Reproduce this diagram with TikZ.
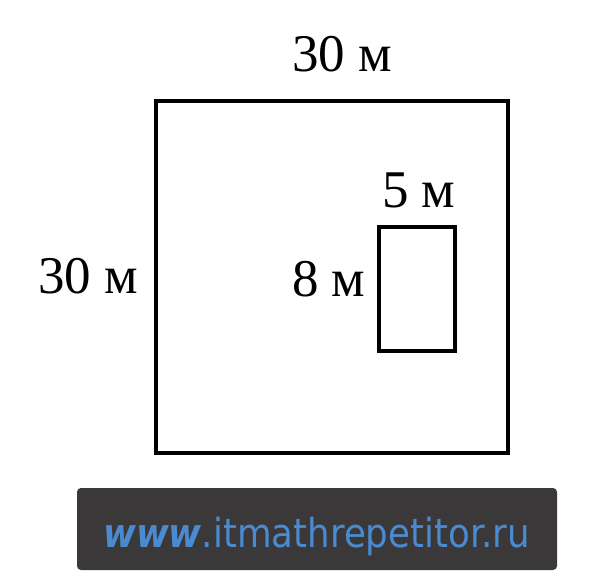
\documentclass[tikz,border=0pt]{standalone}
\usepackage{fontspec}
\setmainfont{Liberation Serif}
\newfontfamily\wmfont{DejaVu Sans}
\definecolor{wmbox}{HTML}{3A3838}
\definecolor{wmblue}{HTML}{4A8AD0}
\tikzset{
  lbl/.style={anchor=base west, inner sep=0pt, font=\fontsize{53}{55}\selectfont},
  wall/.style={draw=black, line width=3.3pt},
}
\begin{document}
\begin{tikzpicture}[x=1pt,y=-1pt]
\useasboundingbox (0,0) rectangle (600,582);
\fill[white] (0,0) rectangle (600,582);
\node[wall, minimum width=352pt, minimum height=352pt, inner sep=0pt] (outer) at (332,277) {};
\node[wall, minimum width=76pt, minimum height=124pt, inner sep=0pt] (inner) at (417,289) {};
\node[lbl] (top) at (292,71) {30 м};
\node[lbl] (left) at (38,293) {30 м};
\node[lbl] (h) at (292,296) {8 м};
\node[lbl] (w) at (382,207) {5 м};
\node[fill=wmbox, rounded corners=4pt, minimum width=480pt, minimum height=82pt, inner sep=0pt] (wm) at (317,529) {};
\node[anchor=base west, inner sep=0pt, text=wmblue] (url) at (103,547) {\wmfont\fontsize{40}{42}\selectfont\scalebox{0.89}[1]{\textbf{\textit{www}}.itmathrepetitor.ru}};
\end{tikzpicture}
\end{document}
